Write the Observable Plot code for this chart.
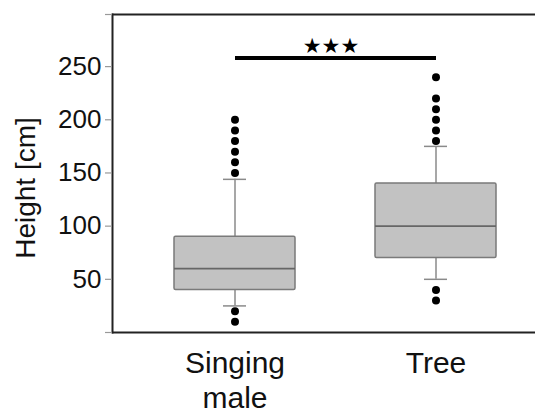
<!DOCTYPE html>
<html>
<head>
<meta charset="utf-8">
<script src="https://cdn.jsdelivr.net/npm/d3@7"></script>
<script src="https://cdn.jsdelivr.net/npm/@observablehq/plot@0.6"></script>
<style>
  html, body { margin: 0; padding: 0; background: #fff; }
  svg { display: block; }
</style>
</head>
<body>
<div id="chart"></div>
<script>
const categories = ["Singing male", "Tree"];
const labelLine1 = ["Singing", "Tree"];
const labelLine2 = ["male", ""];
const whiskerLow = [25, 50];
const q1 = [40, 70];
const median = [60, 100];
const q3 = [90, 140];
const whiskerHigh = [144, 175];
const outliersSinging = [10, 20, 150, 160, 170, 180, 190, 200];
const outliersTree = [30, 40, 180, 190, 200, 210, 220, 240];
const yTicks = [0, 50, 100, 150, 200, 250, 299];
const sigLevel = 258;
const sigStarsLevel = 269;
const sigLabel = "★★★";
const yLabel = "Height [cm]";

const boxes = categories.map((c, i) => ({
  cat: c, lo: whiskerLow[i], q1: q1[i], med: median[i], q3: q3[i], hi: whiskerHigh[i],
  l1: labelLine1[i], l2: labelLine2[i]
}));
const outliers = [
  ...outliersSinging.map(v => ({cat: categories[0], v})),
  ...outliersTree.map(v => ({cat: categories[1], v}))
];
const sig = [{a: categories[0], b: categories[1], y: sigLevel, ys: sigStarsLevel, t: sigLabel}];

const plot = Plot.plot({
  width: 535,
  height: 412,
  marginLeft: 112,
  marginRight: 0,
  marginTop: 14,
  marginBottom: 80,
  style: {fontFamily: "'Liberation Sans', Arial, sans-serif", color: "#111", background: "#fff"},
  x: {domain: categories, range: [112, 558], paddingInner: 0.4, paddingOuter: 0.304, axis: null},
  y: {domain: [0, 299], axis: null},
  marks: [
    // frame lines
    Plot.ruleY([0, 299], {stroke: "#222", strokeWidth: 2}),
    Plot.frame({anchor: "left", stroke: "#222", strokeWidth: 2}),
    // y axis ticks and labels
    Plot.axisY(yTicks, {
      anchor: "left", tickSize: 7, stroke: "#999", strokeWidth: 1.2,
      tickFormat: d => (d === 0 || d === 299) ? "" : d,
      fontSize: 26, tickPadding: 4, label: null, fill: "#111"
    }),
    // whiskers
    Plot.ruleX(boxes, {x: "cat", y1: "lo", y2: "q1", stroke: "#8a8a8a", strokeWidth: 1.5}),
    Plot.ruleX(boxes, {x: "cat", y1: "q3", y2: "hi", stroke: "#8a8a8a", strokeWidth: 1.5}),
    Plot.tickY(boxes, {x: "cat", y: "lo", stroke: "#8a8a8a", strokeWidth: 1.5, insetLeft: 49, insetRight: 49}),
    Plot.tickY(boxes, {x: "cat", y: "hi", stroke: "#8a8a8a", strokeWidth: 1.5, insetLeft: 49, insetRight: 49}),
    // boxes
    Plot.barY(boxes, {x: "cat", y1: "q1", y2: "q3", fill: "#c2c2c2", stroke: "#7a7a7a", strokeWidth: 1.5, rx: 1.5}),
    Plot.tickY(boxes, {x: "cat", y: "med", stroke: "#666", strokeWidth: 1.8}),
    // outliers
    Plot.dot(outliers, {x: "cat", y: "v", r: 4, fill: "#000", stroke: null}),
    // significance bar
    Plot.link(sig, {x1: "a", x2: "b", y1: "y", y2: "y", stroke: "#000", strokeWidth: 4}),
    Plot.text(sig, {x: "a", y: "ys", text: "t", dx: 96, fontSize: 21, fontFamily: "DejaVu Sans", fill: "#000"}),
    // x labels
    Plot.text(boxes, {x: "cat", text: "l1", frameAnchor: "bottom", dy: 40, fontSize: 30, lineAnchor: "bottom", fill: "#111"}),
    Plot.text(boxes, {x: "cat", text: "l2", frameAnchor: "bottom", dy: 75, fontSize: 30, lineAnchor: "bottom", fill: "#111"}),
    // y label
    Plot.text([yLabel], {frameAnchor: "left", text: d => d, rotate: -90, textAnchor: "middle", dx: -86, dy: 14.5, fontSize: 28, fill: "#111"})
  ]
});
document.getElementById("chart").appendChild(plot);
</script>
</body>
</html>
